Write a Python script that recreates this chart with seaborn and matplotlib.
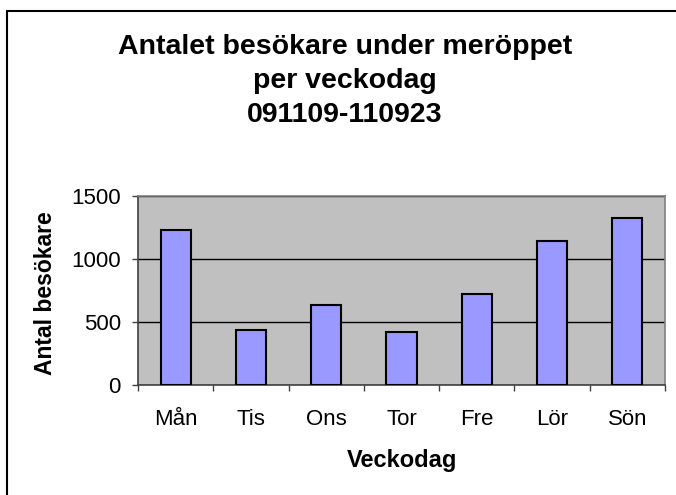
import matplotlib
matplotlib.use("Agg")
import matplotlib.pyplot as plt
import seaborn as sns
import pandas as pd
from matplotlib.lines import Line2D

days = ["Mån", "Tis", "Ons", "Tor", "Fre", "Lör", "Sön"]
visitors = [1228, 435, 635, 422, 722, 1144, 1329]
yticks = [0, 500, 1000, 1500]

title = "Antalet besökare under meröppet\nper veckodag\n091109-110923"
xlabel = "Veckodag"
ylabel = "Antal besökare"

sns.set_theme(style="white")
plt.rcParams["font.family"] = ["Liberation Sans", "DejaVu Sans"]
plt.rcParams["text.color"] = "black"
plt.rcParams["axes.labelcolor"] = "black"

W, H = 676, 495
fig = plt.figure(figsize=(W / 100, H / 100), dpi=100)
fig.patch.set_facecolor("white")

left, right, top, bottom = 138, 665, 196, 385
ax = fig.add_axes([left / W, 1 - bottom / H, (right - left) / W, (bottom - top) / H])

df = pd.DataFrame({"day": days, "visitors": visitors})
sns.barplot(data=df, x="day", y="visitors", color="#9999FF", edgecolor="black",
            linewidth=1.5, width=0.4, saturation=1, ax=ax, zorder=3)

ax.set_facecolor("#C0C0C0")
ax.set_xlim(-0.5, len(days) - 0.5)
ax.set_ylim(0, 1500)
ax.set_yticks(yticks)
ax.set_yticklabels([str(v) for v in yticks])
ax.yaxis.grid(True, color="black", linewidth=1.0, zorder=1)
ax.set_axisbelow(True)
ax.set_xlabel("")
ax.set_ylabel("")

for s in ["top", "right"]:
    ax.spines[s].set_color("#808080")
    ax.spines[s].set_linewidth(1.2)
for s in ["left", "bottom"]:
    ax.spines[s].set_color("#404040")
    ax.spines[s].set_linewidth(1.2)

ax.tick_params(axis="y", which="major", left=True, length=4.3, width=1, color="#404040",
               pad=8.0, labelsize=16, labelcolor="black")
ax.tick_params(axis="x", which="major", bottom=False, length=0, pad=17, labelsize=16,
               labelcolor="black")
ax.set_xticks([i - 0.5 for i in range(len(days) + 1)], minor=True)
ax.tick_params(axis="x", which="minor", bottom=True, length=4.3, width=1, color="#404040")

fig.text(345 / W, 1 - 81 / H, title, ha="center", va="center", fontsize=20.5,
         fontweight="bold", linespacing=1.4, color="black")
fig.text(45 / W, 1 - 293 / H, ylabel, rotation=90, ha="center", va="center",
         fontsize=16.5, fontweight="bold", color="black")
fig.text(402 / W, 1 - 461 / H, xlabel, ha="center", va="center",
         fontsize=17, fontweight="bold", color="black")

# chart-area frame (left and top edges visible)
fig.add_artist(Line2D([6.5 / W, 6.5 / W], [0, 1 - 11 / H], transform=fig.transFigure,
                      color="black", linewidth=1.5))
fig.add_artist(Line2D([6.5 / W, 1], [1 - 11 / H, 1 - 11 / H], transform=fig.transFigure,
                      color="black", linewidth=1.5))

fig.savefig("out.png", dpi=100, facecolor="white")
